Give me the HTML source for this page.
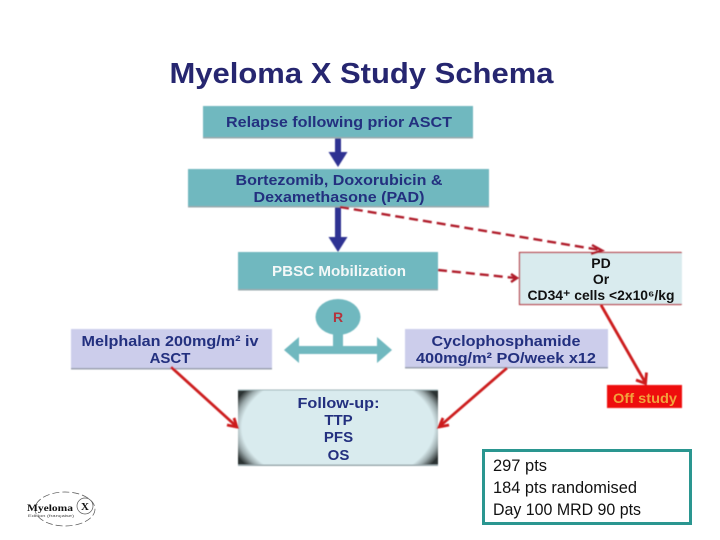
<!DOCTYPE html>
<html>
<head>
<meta charset="utf-8">
<style>
html,body{margin:0;padding:0;background:#fff;width:720px;height:540px;overflow:hidden}
svg{display:block}
text{font-family:"Liberation Sans",sans-serif;font-weight:bold;text-anchor:middle}
.n{fill:#23307f;font-size:15px}
.b{fill:#111;font-size:14px}
.c{font-family:"Liberation Sans",sans-serif;font-weight:normal;fill:#111;font-size:17px;text-anchor:start}
</style>
</head>
<body>
<svg width="720" height="540" viewBox="0 0 720 540" xmlns="http://www.w3.org/2000/svg">
<defs>
<radialGradient id="vg" gradientUnits="userSpaceOnUse" cx="0" cy="0" r="1.2" gradientTransform="translate(338 427.5) scale(100 60)">
<stop offset=".8" stop-color="#d9ebee"/>
<stop offset=".86" stop-color="#9aa8aa"/>
<stop offset=".93" stop-color="#2c3232"/>
</radialGradient>
<filter id="bl" x="-10%" y="-10%" width="120%" height="120%"><feGaussianBlur stdDeviation=".45"/></filter>
<filter id="tb" x="-5%" y="-20%" width="110%" height="140%"><feGaussianBlur stdDeviation=".3"/></filter>
</defs>
<rect width="720" height="540" fill="#fff"/>

<text x="361.500" y="83" filter="url(#tb)" style="font-size:29px;fill:#27286f" textLength="384" lengthAdjust="spacingAndGlyphs">Myeloma X Study Schema</text>

<g filter="url(#bl)">
<!-- blue down arrows -->
<path d="M335 138h6v14h6.500l-9.500 15-9.500-15h6.500z" fill="#2e3192"/>
<path d="M335 207h6v30h6.500l-9.500 15-9.500-15h6.500z" fill="#2e3192"/>

<!-- boxes -->
<rect x="203" y="106" width="270" height="32" fill="#6fb8bf"/>
<rect x="203" y="137" width="270" height="1.500" fill="#9aa9ad"/>
<rect x="188" y="169" width="301" height="38" fill="#6fb8bf"/>
<rect x="188" y="206" width="301" height="1.500" fill="#9aa9ad"/>
<rect x="238" y="252" width="200" height="38" fill="#6fb8bf"/>
<rect x="238" y="289" width="200" height="1.500" fill="#9aa9ad"/>

<rect x="519.500" y="252.500" width="170" height="52" fill="#d9ebee" stroke="#b5333c" stroke-width="1.200"/>
<rect x="682" y="248" width="12" height="60" fill="#fff"/>

<rect x="607" y="385" width="75" height="23" fill="#ee0a0a"/>

<rect x="71" y="329" width="201" height="40" fill="#cccdeb"/>
<rect x="71" y="368" width="201" height="1.500" fill="#9aa0ad"/>
<rect x="405" y="329" width="203" height="39" fill="#cccdeb"/>
<rect x="405" y="367" width="203" height="1.500" fill="#9aa0ad"/>

<!-- R and double arrow -->
<ellipse cx="338" cy="317" rx="22.500" ry="18" fill="#6fb8bf"/>
<rect x="333" y="332" width="10" height="14" fill="#6fb8bf"/>
<path d="M284 350l15-13v9h78v-9l15 13-15 13v-9h-78v9z" fill="#6fb8bf"/>

<!-- follow up -->
<rect x="238" y="390" width="200" height="75" fill="url(#vg)"/>
<rect x="238" y="389.500" width="200" height="1" fill="#9fb5b8"/>
<rect x="238" y="464.500" width="200" height="1.500" fill="#9aa9ad"/>

<!-- dashed connectors -->
<path d="M340 207L600 250" stroke="#b01f2b" stroke-width="2.400" stroke-dasharray="9 5" fill="none"/>
<path d="M592 245l10 5.500-11 3.500" stroke="#b01f2b" stroke-width="2.400" fill="none"/>
<path d="M438 270L516 278" stroke="#b01f2b" stroke-width="2.400" stroke-dasharray="9 5" fill="none"/>
<path d="M511 274l6 4-6 4" stroke="#b01f2b" stroke-width="2.400" fill="none"/>

<!-- solid connectors -->
<path d="M601 305L645 382" stroke="#cc1a1f" stroke-width="2.800" fill="none"/>
<path d="M636 380l9.500 3.500 1-11" stroke="#cc1a1f" stroke-width="2.800" fill="none"/>
<path d="M171 367L236 426" stroke="#cc1a1f" stroke-width="2.800" fill="none"/>
<path d="M227 425l10 2-3-9" stroke="#cc1a1f" stroke-width="2.800" fill="none"/>
<path d="M507 368L440 426" stroke="#cc1a1f" stroke-width="2.800" fill="none"/>
<path d="M449 425l-10 2 4-9" stroke="#cc1a1f" stroke-width="2.800" fill="none"/>
</g>

<!-- labels -->
<text class="n" x="339" y="127" textLength="226" lengthAdjust="spacingAndGlyphs">Relapse following prior ASCT</text>
<text class="n" x="339" y="185" textLength="207" lengthAdjust="spacingAndGlyphs">Bortezomib, Doxorubicin &amp;</text>
<text class="n" x="339" y="202" textLength="171" lengthAdjust="spacingAndGlyphs">Dexamethasone (PAD)</text>
<text x="339" y="276" style="font-size:15px;fill:#f4f8f8" textLength="134" lengthAdjust="spacingAndGlyphs">PBSC Mobilization</text>

<text class="b" x="601" y="268">PD</text>
<text class="b" x="601" y="284">Or</text>
<text class="b" x="601" y="300" textLength="147" lengthAdjust="spacingAndGlyphs">CD34⁺ cells &lt;2x10⁶/kg</text>

<text x="645" y="403" style="font-size:14px;fill:#f2a23c" textLength="64" lengthAdjust="spacingAndGlyphs">Off study</text>

<text class="n" x="170" y="346" textLength="177" lengthAdjust="spacingAndGlyphs">Melphalan 200mg/m² iv</text>
<text class="n" x="170" y="363">ASCT</text>
<text class="n" x="506" y="346" textLength="149" lengthAdjust="spacingAndGlyphs">Cyclophosphamide</text>
<text class="n" x="506" y="363" textLength="180" lengthAdjust="spacingAndGlyphs">400mg/m² PO/week x12</text>

<text x="338" y="322" style="font-size:14px;fill:#b5333c">R</text>

<text class="n" x="338.500" y="408" textLength="82" lengthAdjust="spacingAndGlyphs">Follow-up:</text>
<text class="n" x="338.500" y="425">TTP</text>
<text class="n" x="338.500" y="442">PFS</text>
<text class="n" x="338.500" y="460">OS</text>

<!-- note box -->
<rect x="483.500" y="450.500" width="207" height="73" fill="#fff" stroke="#2a9690" stroke-width="3"/>
<text class="c" x="493" y="471" textLength="54" lengthAdjust="spacingAndGlyphs">297 pts</text>
<text class="c" x="493" y="493" textLength="144" lengthAdjust="spacingAndGlyphs">184 pts randomised</text>
<text class="c" x="493" y="515" textLength="148" lengthAdjust="spacingAndGlyphs">Day 100 MRD 90 pts</text>

<!-- logo -->
<ellipse cx="65" cy="509" rx="30" ry="17" fill="none" stroke="#555" stroke-width=".7" stroke-dasharray="7 3"/>
<text x="50" y="511" style="font-family:'Liberation Serif',serif;font-size:9.500px;fill:#111" textLength="46" lengthAdjust="spacingAndGlyphs">Myeloma</text>
<circle cx="85" cy="506" r="8" fill="#fff" stroke="#555" stroke-width=".7"/>
<text x="85" y="510" style="font-family:'Liberation Serif',serif;font-size:11px;fill:#111">X</text>
<text x="51" y="517" style="font-family:'Liberation Sans',sans-serif;font-weight:normal;font-size:4px;fill:#444" textLength="46" lengthAdjust="spacingAndGlyphs">Edition (française)</text>
</svg>
</body>
</html>
